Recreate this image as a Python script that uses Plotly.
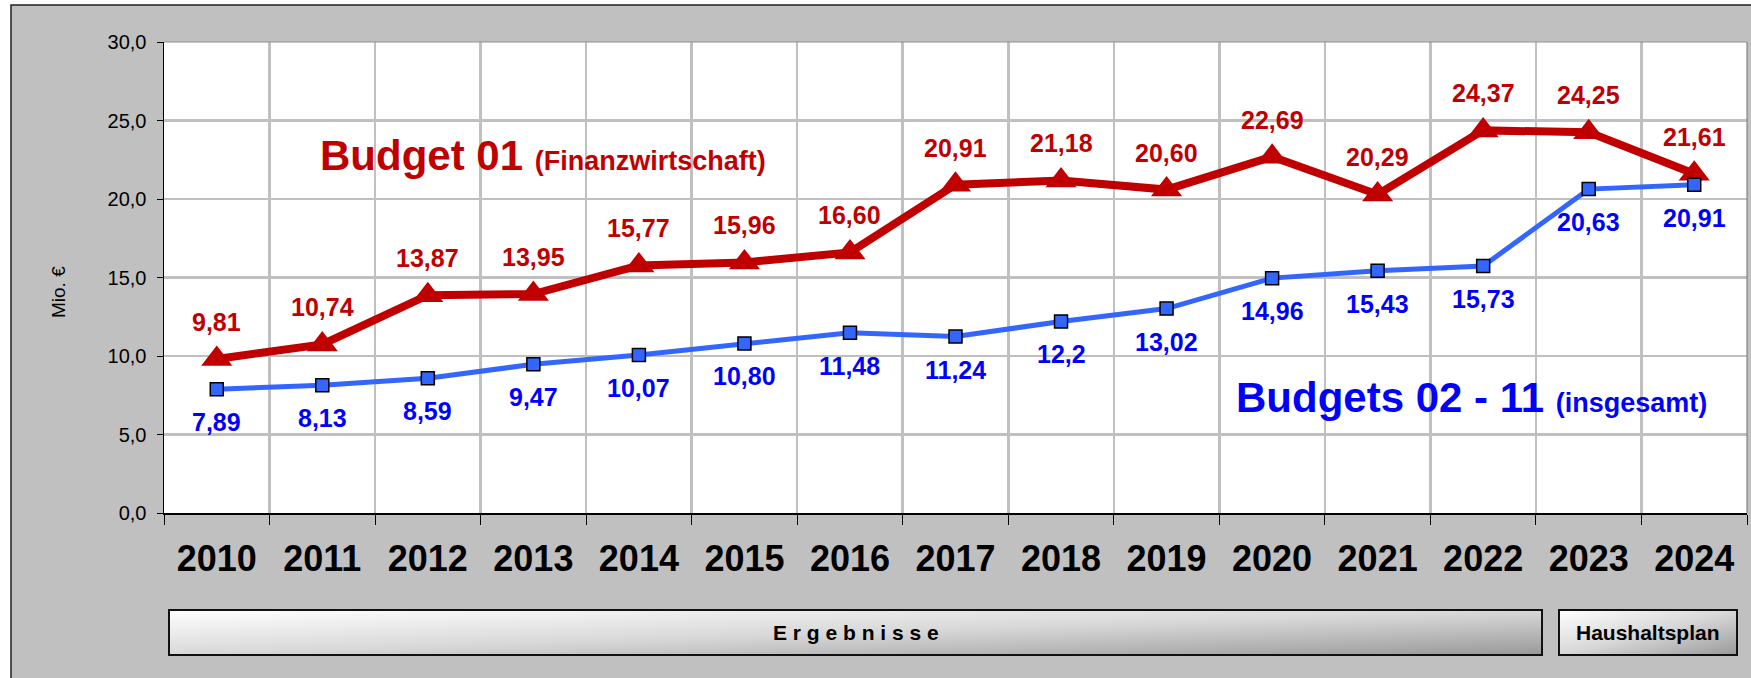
import base64
import plotly.graph_objects as go

# ---------------- data ----------------
years = ["2010", "2011", "2012", "2013", "2014", "2015", "2016", "2017",
         "2018", "2019", "2020", "2021", "2022", "2023", "2024"]
budget01 = [9.81, 10.74, 13.87, 13.95, 15.77, 15.96, 16.60, 20.91,
            21.18, 20.60, 22.69, 20.29, 24.37, 24.25, 21.61]
budget01_labels = ["9,81", "10,74", "13,87", "13,95", "15,77", "15,96", "16,60", "20,91",
                   "21,18", "20,60", "22,69", "20,29", "24,37", "24,25", "21,61"]
budgets0211 = [7.89, 8.13, 8.59, 9.47, 10.07, 10.80, 11.48, 11.24,
               12.2, 13.02, 14.96, 15.43, 15.73, 20.63, 20.91]
budgets0211_labels = ["7,89", "8,13", "8,59", "9,47", "10,07", "10,80", "11,48", "11,24",
                      "12,2", "13,02", "14,96", "15,43", "15,73", "20,63", "20,91"]
y_ticks = [0, 5, 10, 15, 20, 25, 30]

# ---------------- geometry ----------------
W, H = 1751, 678
L, R, T, B = 164, 1747, 42, 513


def fx(px):
    return (px - L) / (R - L)


def fy(py):
    return (B - py) / (B - T)


FONT = "Liberation Sans, Arial, sans-serif"
RED = "#C00000"
BLUE_TXT = "#0000FF"
BLUE_LINE = "#3366FF"
GRID = "#C0C0C0"

fig = go.Figure()

fig.add_trace(go.Scatter(
    x=years, y=budget01, mode="lines+markers",
    line=dict(color=RED, width=8),
    marker=dict(symbol="triangle-up", size=27, color=RED),
    hoverinfo="skip", showlegend=False,
))
fig.add_trace(go.Scatter(
    x=years, y=budgets0211, mode="lines+markers",
    line=dict(color=BLUE_LINE, width=5),
    marker=dict(symbol="square", size=13, color=BLUE_LINE,
                line=dict(color="black", width=1.5)),
    hoverinfo="skip", showlegend=False,
))

annotations = []
# category axis: annotation positions given as category index
for i, (v, t) in enumerate(zip(budget01, budget01_labels)):
    annotations.append(dict(x=i, y=v, xref="x", yref="y", text=t, showarrow=False, yshift=37,
                            font=dict(family=FONT, size=25, color=RED, weight="bold")))
for i, (v, t) in enumerate(zip(budgets0211, budgets0211_labels)):
    annotations.append(dict(x=i, y=v, xref="x", yref="y", text=t, showarrow=False, yshift=-33,
                            font=dict(family=FONT, size=25, color=BLUE_TXT, weight="bold")))

# series titles
annotations.append(dict(
    xref="paper", yref="paper", x=fx(318), y=fy(156), xanchor="left", yanchor="middle",
    text="<b>Budget 01 <span style='font-size:27px'>(Finanzwirtschaft)</span></b>",
    showarrow=False, font=dict(family=FONT, size=42, color=RED)))
annotations.append(dict(
    xref="paper", yref="paper", x=fx(1234), y=fy(397), xanchor="left", yanchor="middle",
    text="<b>Budgets 02 - 11 <span style='font-size:27px'>(insgesamt)</span></b>",
    showarrow=False, font=dict(family=FONT, size=42, color=BLUE_TXT)))

# y axis title
annotations.append(dict(
    xref="paper", yref="paper", x=fx(58), y=fy(292), xanchor="center", yanchor="middle",
    text="Mio. €", textangle=-90, showarrow=False,
    font=dict(family=FONT, size=19, color="black")))

# buttons
btn_top, btn_bot = 610, 655
buttons = [(169, 1542, "E r g e b n i s s e"), (1559, 1737, "Haushaltsplan")]


def grad_uri():
    svg = ('<svg xmlns="http://www.w3.org/2000/svg" viewBox="0 0 100 100" '
           'preserveAspectRatio="none"><defs><linearGradient id="g" x1="0" y1="0" x2="1" y2="1">'
           '<stop offset="0" stop-color="#FFFFFF"/><stop offset="0.5" stop-color="#D8D8D8"/>'
           '<stop offset="1" stop-color="#999999"/></linearGradient></defs>'
           '<rect x="0" y="0" width="100" height="100" fill="url(#g)"/></svg>')
    return "data:image/svg+xml;base64," + base64.b64encode(svg.encode()).decode()


images = []
shapes = []
# outer white margin + chart frame
shapes.append(dict(type="rect", xref="paper", yref="paper", layer="below",
                   x0=fx(0), x1=fx(W + 10), y0=fy(0), y1=fy(5), fillcolor="white",
                   line=dict(width=0)))
shapes.append(dict(type="rect", xref="paper", yref="paper", layer="below",
                   x0=fx(0), x1=fx(11), y0=fy(0), y1=fy(H + 10), fillcolor="white",
                   line=dict(width=0)))
shapes.append(dict(type="rect", xref="paper", yref="paper", layer="below",
                   x0=fx(11), x1=fx(W + 20), y0=fy(5), y1=fy(H + 20), fillcolor="rgba(0,0,0,0)",
                   line=dict(color="#202020", width=1.5)))
# plot area top/right border
shapes.append(dict(type="line", xref="paper", yref="paper", x0=0, x1=1, y0=1, y1=1,
                   line=dict(color="#909090", width=1)))
shapes.append(dict(type="line", xref="paper", yref="paper", x0=1, x1=1, y0=0, y1=1,
                   line=dict(color="#707070", width=1)))

for x0, x1, label in buttons:
    images.append(dict(source=grad_uri(), xref="paper", yref="paper",
                       x=fx(x0), y=fy(btn_top), sizex=fx(x1) - fx(x0),
                       sizey=fy(btn_top) - fy(btn_bot), sizing="stretch",
                       xanchor="left", yanchor="top", layer="above"))
    shapes.append(dict(type="rect", xref="paper", yref="paper", layer="above",
                       x0=fx(x0), x1=fx(x1), y0=fy(btn_top), y1=fy(btn_bot),
                       fillcolor="rgba(0,0,0,0)", line=dict(color="#111111", width=2)))
    annotations.append(dict(xref="paper", yref="paper", x=(fx(x0) + fx(x1)) / 2,
                            y=fy((btn_top + btn_bot) / 2), xanchor="center", yanchor="middle",
                            text=label, showarrow=False,
                            font=dict(family=FONT, size=21, color="black", weight="bold")))

fig.update_layout(
    width=W, height=H,
    margin=dict(l=L, r=W - R, t=T, b=H - B, pad=0),
    paper_bgcolor="#C0C0C0",
    plot_bgcolor="white",
    separators=",.",
    showlegend=False,
    annotations=annotations,
    shapes=shapes,
    images=images,
    xaxis=dict(
        type="category", categoryorder="array", categoryarray=years,
        tickson="boundaries", ticks="outside", ticklen=10, tickcolor="black", tickwidth=1,
        showline=True, linecolor="black", linewidth=1.5,
        showgrid=True, gridcolor=GRID, gridwidth=2.5,
        tickfont=dict(family=FONT, size=36, color="black", weight="bold"),
        ticklabelstandoff=13,
        range=[-0.5, len(years) - 0.5], fixedrange=True,
    ),
    yaxis=dict(
        range=[0, 30], tickvals=y_ticks, tickformat=".1f",
        ticks="outside", ticklen=6, tickcolor="black",
        showline=True, linecolor="black", linewidth=1.5,
        showgrid=True, gridcolor=GRID, gridwidth=2.5, zeroline=False,
        tickfont=dict(family=FONT, size=20, color="black"),
        ticklabelstandoff=6, fixedrange=True,
    ),
)

fig.write_html(
    "out.html",
    config={"displayModeBar": False, "staticPlot": True},
    post_script="document.body.style.margin='0';document.body.style.overflow='hidden';",
)
